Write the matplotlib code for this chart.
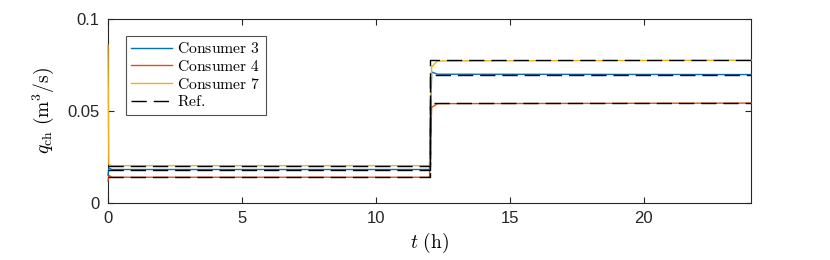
import matplotlib
matplotlib.use("Agg")
import matplotlib.pyplot as plt

plt.rcParams['mathtext.fontset'] = 'cm'
plt.rcParams['font.family'] = ['Liberation Sans', 'DejaVu Sans']
plt.rcParams['lines.scale_dashes'] = False

# Simulated flows (time in h, flow in m^3/s)
t_sim = [0.0, 0.03, 0.15, 11.99, 12.0, 12.08, 12.3, 24.0]
c3 = [0.0150, 0.0190, 0.0182, 0.0182, 0.0182, 0.0712, 0.0700, 0.0698]
c4 = [0.0120, 0.0150, 0.0140, 0.0140, 0.0140, 0.0520, 0.0540, 0.0543]
c7 = [0.0858, 0.0210, 0.0203, 0.0203, 0.0203, 0.0740, 0.0772, 0.0776]

# Reference flows
t_ref = [0.0, 12.0, 12.0, 24.0]
r3 = [0.0182, 0.0182, 0.0698, 0.0698]
r4 = [0.0140, 0.0140, 0.0543, 0.0543]
r7 = [0.0203, 0.0203, 0.0776, 0.0776]

labels = ['Consumer 3', 'Consumer 4', 'Consumer 7', 'Ref.']
colors = ['#0072BD', '#D95319', '#EDB120']

fig = plt.figure(figsize=(8.3, 2.6), dpi=100)
ax = fig.add_axes([108/830, 1-203/260, 643/830, 184/260])

h = []
for y, c, lab in zip([c3, c4, c7], colors, labels[:3]):
    ln, = ax.plot(t_sim, y, color=c, lw=1.0, zorder=3, clip_on=False,
                  label=r'$\mathrm{' + lab.replace(' ', r'\ ') + '}$')
    h.append(ln)
for i, y in enumerate([r3, r4, r7]):
    ln, = ax.plot(t_ref, y, color='black', lw=1.0, dashes=(11, 5), zorder=3.5,
                  label=r'$\mathrm{Ref.}$' if i == 0 else None)
    if i == 0:
        h.append(ln)

ax.set_xlim(0, 24)
ax.set_ylim(0, 0.1)
ax.set_xticks([0, 5, 10, 15, 20])
ax.set_yticks([0, 0.05, 0.1])
ax.set_yticklabels(['0', '0.05', '0.1'])
ax.tick_params(direction='in', length=4, width=0.8, labelsize=12, colors='#262626',
               top=True, right=True, pad=6)
for s in ax.spines.values():
    s.set_color('#262626')
    s.set_linewidth(0.8)
    s.set_zorder(2.5)

ax.set_xlabel(r'$t\ (\mathrm{h})$', fontsize=14, labelpad=3)
ax.set_ylabel(r'$q_{\mathrm{ch}}\ (\mathrm{m}^3/\mathrm{s})$', fontsize=14, labelpad=8)

leg = ax.legend(handles=h, loc='upper left', bbox_to_anchor=(18/643, 1-17/184),
                fontsize=11.3, frameon=True, fancybox=False, edgecolor='#262626',
                handlelength=2.6, handletextpad=0.35, borderpad=0.32, labelspacing=0.18,
                borderaxespad=0)
leg.get_frame().set_linewidth(0.8)
leg.set_zorder(5)

fig.savefig('out.png', dpi=100)
